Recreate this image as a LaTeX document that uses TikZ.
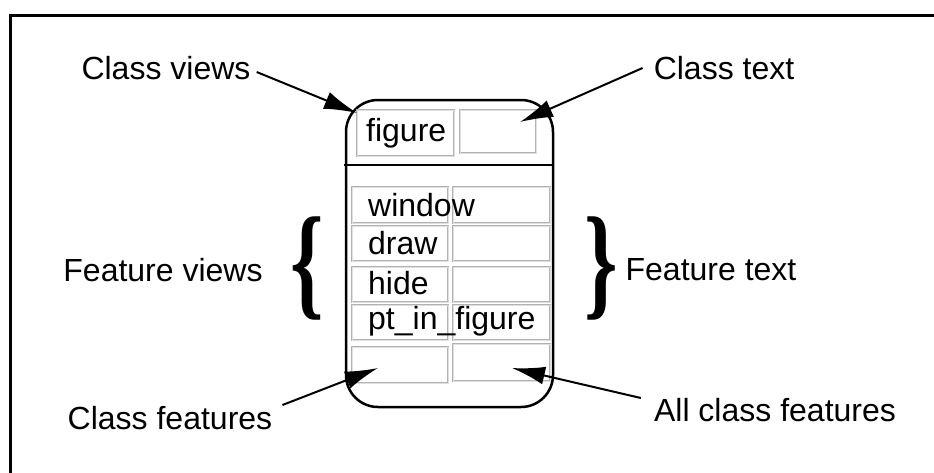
\documentclass[tikz,border=0pt]{standalone}
\usepackage{fontspec}
\setmainfont{Liberation Sans}
\newfontfamily\braceserif{Liberation Serif}
\usetikzlibrary{arrows.meta}
\begin{document}
\begin{tikzpicture}[x=1pt,y=-1pt,
  lbl/.style={font=\fontsize{32}{32}\selectfont, inner sep=0pt},
  celltext/.style={font=\fontsize{32}{32}\selectfont, inner sep=0pt, anchor=west},
  cell/.style={draw=gray!60, line width=0.8pt, double=gray!25, double distance=0.9pt},
  ptr/.style={line width=2pt, -{Latex[length=33pt,width=18pt]}},
  bracefont/.style={font=\fontsize{125}{125}\selectfont\braceserif\bfseries, inner sep=0pt, xscale=0.68}
]
\useasboundingbox (0,0) rectangle (934,472);
\clip (0,0) rectangle (934,472);
\fill[white] (0,0) rectangle (934,472);
% outer frame (open on right and bottom)
\draw[line width=3pt] (10.5,480) -- (10.5,15) -- (940,15);
% class box
\draw[line width=2.5pt, rounded corners=32pt] (346,100) rectangle (553,407);
\draw[line width=2.5pt] (344,165) -- (553,165);
% top cells
\draw[cell] (357,110) rectangle (454,156);
\draw[cell] (460,110) rectangle (536,153);
\node[celltext] (cfig) at (366,133) {figure};
% feature cells
\draw[cell] (352,187) rectangle (448,223);
\draw[cell] (453,187) rectangle (550,223);
\draw[cell] (352,226) rectangle (448,261);
\draw[cell] (453,226) rectangle (550,261);
\draw[cell] (352,267) rectangle (448,302);
\draw[cell] (453,267) rectangle (550,302);
\draw[cell] (352,305) rectangle (448,340);
\draw[cell] (453,305) rectangle (550,340);
\draw[cell] (352,347) rectangle (448,383);
\draw[cell] (453,344) rectangle (550,381);
\node[celltext] (fwin) at (368,205) {window};
\node[celltext] (fdraw) at (368,243) {draw};
\node[celltext] (fhide) at (368,283) {hide};
\node[celltext] (fpt) at (368,321) {pt\_in\_figure};
% labels
\node[lbl] (cv) at (166,68) {Class views};
\node[lbl] (ct) at (724,68) {Class text};
\node[lbl] (fv) at (163,270) {Feature views};
\node[lbl] (ft) at (711,270) {Feature text};
\node[lbl] (cf) at (170,418) {Class features};
\node[lbl] (acf) at (775,410) {All class features};
% braces
\node[bracefont] (bl) at (307,268) {\{};
\node[bracefont] (br) at (601,268) {\}};
% arrow tips
\coordinate (tcv) at (357,113);
\coordinate (tct) at (520,122);
\coordinate (tcf) at (378,368);
\coordinate (tacf) at (512,368);
\draw[ptr] (cv.east) ++(6,4) -- (tcv);
\draw[ptr] (ct.west) ++(-11,0) -- (tct);
\draw[ptr] (cf.east) ++(10,-13) -- (tcf);
\draw[ptr] (acf.west) ++(-13,-12) -- (tacf);
\end{tikzpicture}
\end{document}
